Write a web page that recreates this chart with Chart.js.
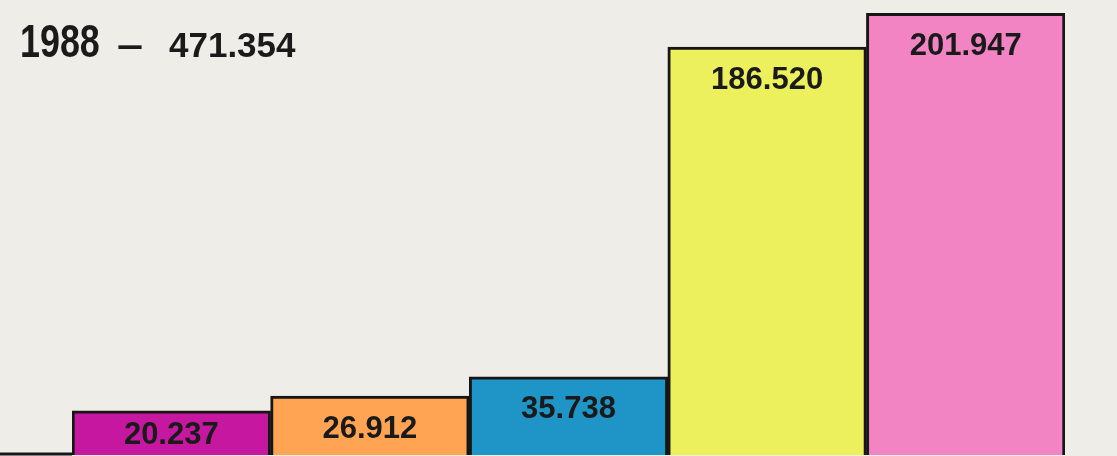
<!DOCTYPE html>
<html>
<head>
<meta charset="utf-8">
<script src="https://cdn.jsdelivr.net/npm/chart.js@4.4.1/dist/chart.umd.min.js"></script>
<style>
  html, body { margin: 0; padding: 0; background: #EEEDE8; }
  #wrap { width: 1117px; height: 456px; position: relative; }
</style>
</head>
<body>
<div id="wrap"><canvas id="c"></canvas></div>
<script>
// ---- data ----
const categories = ["A", "B", "C", "D", "E"];
const values = [20.237, 26.912, 35.738, 186.520, 201.947];
const barColors = ["#C5179F", "#FFA453", "#1F95C7", "#ECF05C", "#F284C3"];
const titleYear = "1988";
const titleDash = "–";
const titleTotal = "471.354";

const bgPlugin = {
  id: 'bg',
  beforeDraw(chart) {
    const ctx = chart.ctx;
    ctx.save();
    ctx.fillStyle = '#EEEDE8';
    ctx.fillRect(0, 0, chart.width, chart.height);
    ctx.restore();
  }
};

const baselinePlugin = {
  id: 'baseline',
  afterDatasetsDraw(chart) {
    const ctx = chart.ctx;
    const y = chart.scales.y.getPixelForValue(0);
    ctx.save();
    ctx.strokeStyle = '#161616';
    ctx.lineWidth = 3;
    ctx.beginPath();
    ctx.moveTo(0, y - 1);
    ctx.lineTo(chart.chartArea.left, y - 1);
    ctx.stroke();
    ctx.restore();
  }
};

const labelPlugin = {
  id: 'barLabels',
  afterDatasetsDraw(chart) {
    const ctx = chart.ctx;
    const meta = chart.getDatasetMeta(0);
    const base = chart.scales.y.getPixelForValue(0);
    ctx.save();
    ctx.fillStyle = '#1A1A1A';
    ctx.font = 'bold 31px "Liberation Sans", Arial, sans-serif';
    ctx.textAlign = 'center';
    ctx.textBaseline = 'middle';
    meta.data.forEach((bar, i) => {
      const y = Math.min(bar.y + 33, base - 20);
      ctx.fillText(values[i].toFixed(3), bar.x, y);
    });
    ctx.restore();
  }
};

const titlePlugin = {
  id: 'titleText',
  afterDraw(chart) {
    const ctx = chart.ctx;
    ctx.save();
    ctx.fillStyle = '#1A1A1A';
    ctx.textBaseline = 'alphabetic';
    ctx.textAlign = 'left';
    ctx.save();
    ctx.translate(20, 57);
    ctx.scale(0.78, 1);
    ctx.font = 'bold 46px "Liberation Sans", Arial, sans-serif';
    ctx.fillText(titleYear, 0, 0);
    ctx.restore();
    ctx.save();
    ctx.translate(117, 57);
    ctx.scale(1.3, 1);
    ctx.font = 'bold 36px "Liberation Sans", Arial, sans-serif';
    ctx.fillText(titleDash, 0, 0);
    ctx.restore();
    ctx.font = 'bold 35px "Liberation Sans", Arial, sans-serif';
    ctx.fillText(titleTotal, 169, 57);
    ctx.restore();
  }
};

new Chart(document.getElementById('c'), {
  type: 'bar',
  data: {
    labels: categories,
    datasets: [{
      data: values,
      backgroundColor: barColors,
      borderColor: '#161616',
      borderWidth: 3,
      borderSkipped: 'bottom',
      barPercentage: 1.0,
      categoryPercentage: 1.0
    }]
  },
  options: {
    responsive: true,
    maintainAspectRatio: false,
    animation: false,
    layout: { padding: { left: 72, right: 52, top: 0, bottom: 1 } },
    plugins: { legend: { display: false }, tooltip: { enabled: false }, title: { display: false } },
    scales: {
      x: { display: false },
      y: { display: false, min: 0, max: 208 }
    }
  },
  plugins: [bgPlugin, baselinePlugin, labelPlugin, titlePlugin]
});
</script>
</body>
</html>
